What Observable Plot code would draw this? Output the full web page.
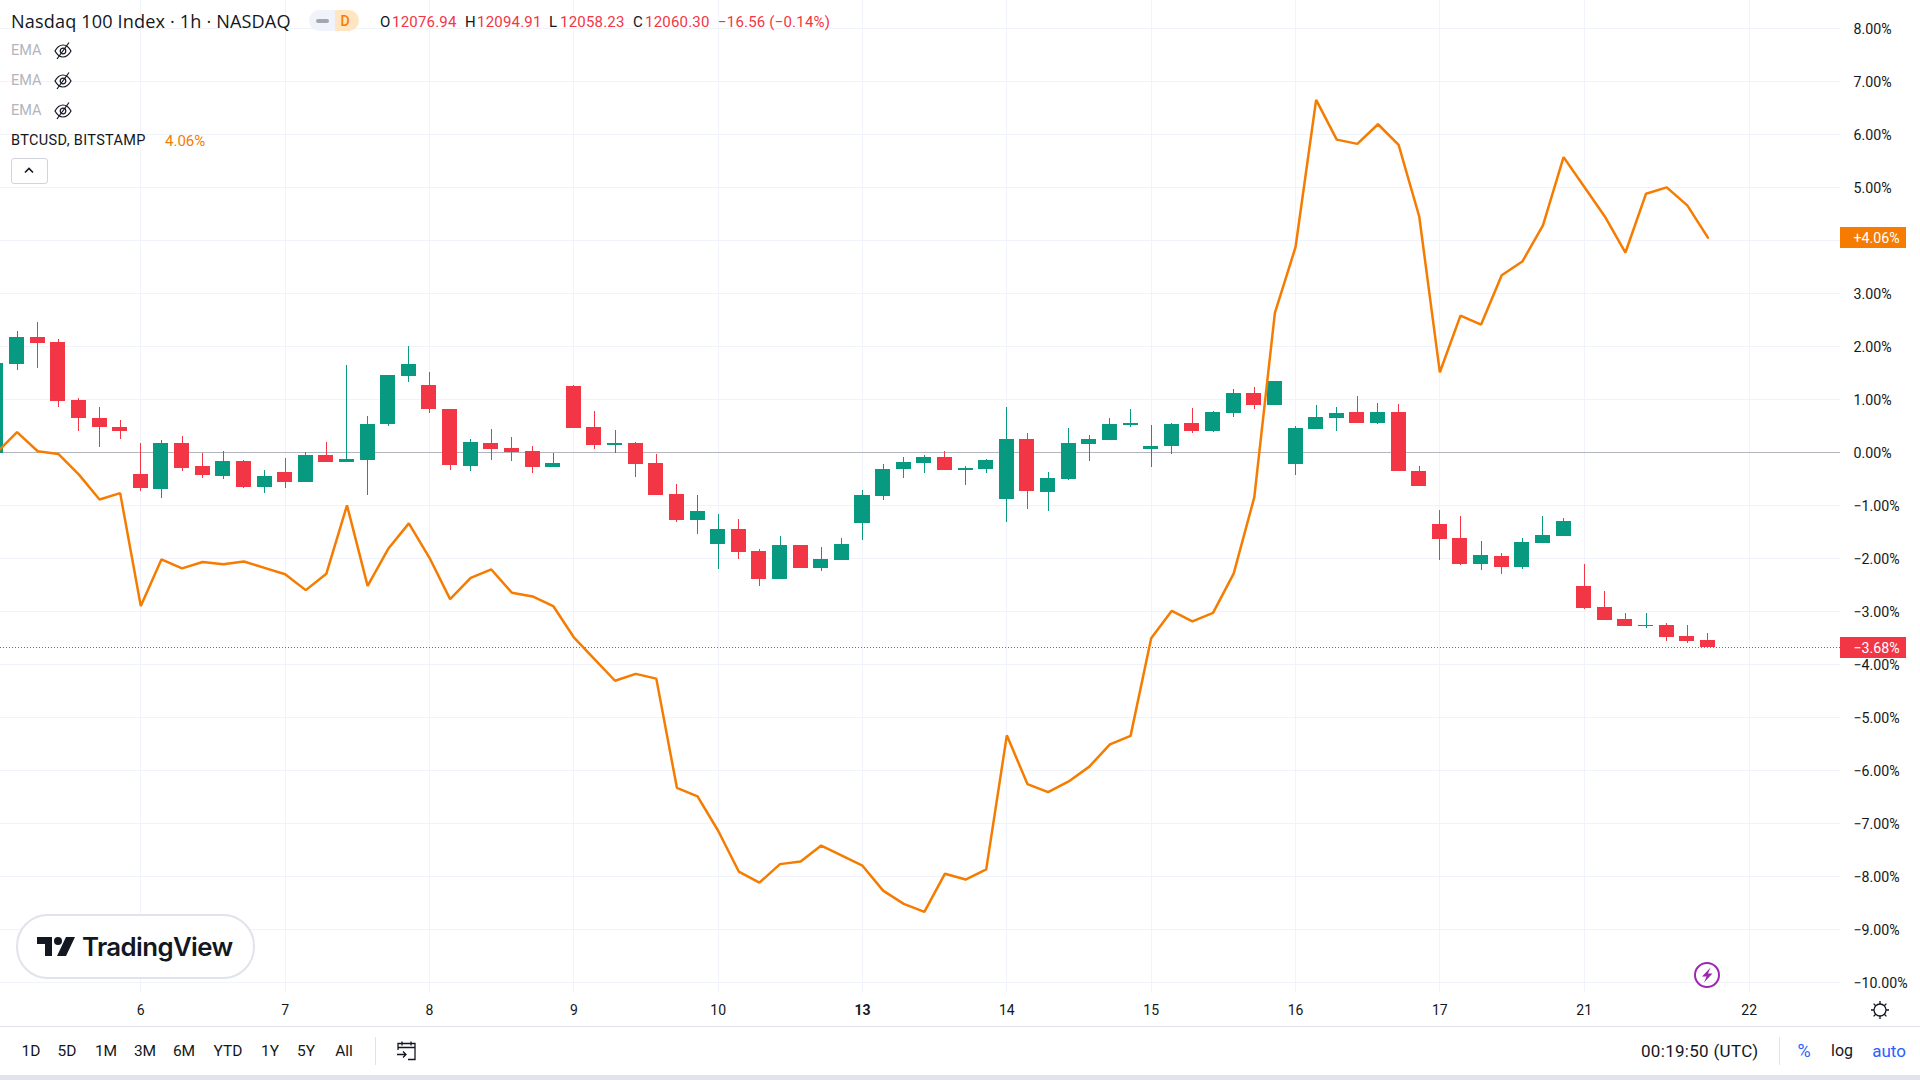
<!DOCTYPE html>
<html>
<head>
<meta charset="utf-8">
<script src="https://cdn.jsdelivr.net/npm/d3@7"></script>
<script src="https://cdn.jsdelivr.net/npm/@observablehq/plot@0.6"></script>
<style>
html,body{margin:0;padding:0;background:#fff;width:1920px;height:1080px;overflow:hidden;font-family:Roboto,"Liberation Sans",sans-serif;color:#131722}
#stage{position:relative;width:1920px;height:1080px}
#chart{position:absolute;left:0;top:0}
.t{position:absolute;white-space:nowrap;line-height:20px;transform:translateY(-50%)}
.c{transform:translate(-50%,-50%)}
.r{color:#f23645}
.v{font-size:15px;letter-spacing:.2px}
.ema{color:#b2b5be;font-size:14.5px;left:11px}
.tb{font-size:15.5px}
svg.i{position:absolute;overflow:visible}
</style>
</head>
<body>
<div id="stage">
  <div id="chart"></div>

  <span class="t" style="left:11px;top:21px;font-size:18.1px;font-family:'Open Sans',Roboto,sans-serif;letter-spacing:.15px">Nasdaq 100 Index · 1h · NASDAQ</span>
  <div style="position:absolute;left:309px;top:10px;width:26px;height:21px;background:#f0f3fa;border-radius:11px 0 0 11px"></div>
  <div style="position:absolute;left:335px;top:10px;width:24px;height:21px;background:#ffe5c2;border-radius:0 11px 11px 0"></div>
  <div style="position:absolute;left:316px;top:19px;width:13px;height:4px;background:#a3a6af;border-radius:2px"></div>
  <span class="t c" style="left:345px;top:21px;font-size:14px;font-weight:500;color:#f57c00">D</span>

  <span class="t v" style="left:380px;top:22px">O</span><span class="t v r" style="left:392px;top:22px">12076.94</span>
  <span class="t v" style="left:465px;top:22px">H</span><span class="t v r" style="left:477px;top:22px">12094.91</span>
  <span class="t v" style="left:549px;top:22px">L</span><span class="t v r" style="left:560px;top:22px">12058.23</span>
  <span class="t v" style="left:633px;top:22px">C</span><span class="t v r" style="left:645px;top:22px">12060.30</span>
  <span class="t v r" style="left:718px;top:22px">−16.56 (−0.14%)</span>

  <span class="t ema" style="top:51px">EMA</span>
  <span class="t ema" style="top:81px">EMA</span>
  <span class="t ema" style="top:111px">EMA</span>
  <svg class="i" style="left:53px;top:41px" width="20" height="20" viewBox="0 0 20 20" fill="none" stroke="#131722" stroke-width="1.200"><path d="M2 10c2.500-4.500 5-6 8-6s5.500 1.500 8 6c-2.500 4.500-5 6-8 6s-5.500-1.500-8-6z"/><circle cx="10" cy="10" r="2.800"/><path d="M4 18L16 1.500"/></svg>
  <svg class="i" style="left:53px;top:71px" width="20" height="20" viewBox="0 0 20 20" fill="none" stroke="#131722" stroke-width="1.200"><path d="M2 10c2.500-4.500 5-6 8-6s5.500 1.500 8 6c-2.500 4.500-5 6-8 6s-5.500-1.500-8-6z"/><circle cx="10" cy="10" r="2.800"/><path d="M4 18L16 1.500"/></svg>
  <svg class="i" style="left:53px;top:101px" width="20" height="20" viewBox="0 0 20 20" fill="none" stroke="#131722" stroke-width="1.200"><path d="M2 10c2.500-4.500 5-6 8-6s5.500 1.500 8 6c-2.500 4.500-5 6-8 6s-5.500-1.500-8-6z"/><circle cx="10" cy="10" r="2.800"/><path d="M4 18L16 1.500"/></svg>

  <span class="t" style="left:11px;top:141px;font-size:14.5px;letter-spacing:.35px">BTCUSD, BITSTAMP</span>
  <span class="t" style="left:165px;top:141px;font-size:15px;color:#f57c00">4.06%</span>
  <div style="position:absolute;left:11px;top:158px;width:35px;height:24px;border:1px solid #d1d4dc;border-radius:3px;background:#fff"></div>
  <svg class="i" style="left:23px;top:165px" width="12" height="10" fill="none" stroke="#131722" stroke-width="1.600"><path d="M2 7.500L6 3.500L10 7.500"/></svg>

  <div style="position:absolute;left:16px;top:914px;width:235px;height:61px;border:2px solid #e0e3eb;border-radius:32px;background:#fff"></div>
  <svg class="i" style="left:37px;top:936px" width="38" height="21" viewBox="0 0 38 21" fill="#131722"><path d="M0 1h15v19H8V8H0z"/><circle cx="21" cy="5" r="4"/><path d="M29 1h9l-9 19h-9z"/></svg>
  <span class="t" style="left:82px;top:947px;font-size:25.8px;font-weight:600;font-family:Inter,Roboto,sans-serif;letter-spacing:-.6px">TradingView</span>

  <svg class="i" style="left:1694px;top:962px" width="26" height="26" fill="none"><circle cx="13" cy="13" r="12" stroke="#9c27b0" stroke-width="2"/><path d="M16.500 5.500L8 14.500h4.500L10 20.500L18.500 11.500h-4.500z" fill="#9c27b0"/></svg>
  <svg class="i" style="left:1870px;top:1000px" width="20" height="20" fill="none" stroke="#131722" stroke-width="1.300"><circle cx="10" cy="10" r="6"/><path d="M10 1v3M10 16v3M1 10h3M16 10h3M3.600 3.600l2.100 2.100M14.300 14.300l2.100 2.100M3.600 16.400l2.100-2.100M14.300 5.700l2.100-2.100"/></svg>

  <div style="position:absolute;left:0;top:1026px;width:1920px;height:1px;background:#e0e3eb"></div>
  <div style="position:absolute;left:0;top:1075px;width:1920px;height:5px;background:#e0e3eb"></div>

  <span class="t c tb" style="left:31px;top:1051px">1D</span>
  <span class="t c tb" style="left:67px;top:1051px">5D</span>
  <span class="t c tb" style="left:106px;top:1051px">1M</span>
  <span class="t c tb" style="left:145px;top:1051px">3M</span>
  <span class="t c tb" style="left:184px;top:1051px">6M</span>
  <span class="t c tb" style="left:228px;top:1051px">YTD</span>
  <span class="t c tb" style="left:270px;top:1051px">1Y</span>
  <span class="t c tb" style="left:306px;top:1051px">5Y</span>
  <span class="t c tb" style="left:344px;top:1051px">All</span>
  <div style="position:absolute;left:375px;top:1037px;width:1px;height:28px;background:#e0e3eb"></div>
  <svg class="i" style="left:396px;top:1040px" width="22" height="22" fill="none" stroke="#131722" stroke-width="1.300"><path d="M2 10V3.500h17V19.500h-7M2 7.500h17M6 1.500v4M15 1.500v4M1 14.500h9M7 11.500l3 3-3 3"/></svg>
  <span class="t" style="left:1641px;top:1051px;font-size:17px;letter-spacing:.3px">00:19:50 (UTC)</span>
  <div style="position:absolute;left:1779px;top:1037px;width:1px;height:28px;background:#e0e3eb"></div>
  <span class="t c" style="left:1804px;top:1051px;font-size:18px;color:#2962ff">%</span>
  <span class="t c" style="left:1842px;top:1051px;font-size:16px">log</span>
  <span class="t c" style="left:1889px;top:1051px;font-size:17px;color:#2962ff">auto</span>
</div>

<script>
// Bars are counted from the first bar of day 6 (bar 0); 84 hourly bars, first one is bar -7.
const firstBar = -7;

const open = [
  -0.01,1.67,2.18,2.08,0.99,0.65,0.48,
  -0.41,-0.69,0.18,-0.26,-0.44,-0.16,-0.65,
  -0.37,-0.55,-0.05,-0.19,-0.14,0.54,1.45,
  1.27,0.82,-0.25,0.18,0.08,0.03,-0.28,
  1.25,0.48,0.14,0.18,-0.20,-0.79,-1.28,
  -1.73,-1.45,-1.86,-2.39,-1.75,-2.18,-2.03,
  -1.33,-0.82,-0.31,-0.20,-0.09,-0.33,-0.31,
  -0.88,0.25,-0.75,-0.50,0.16,0.23,0.52,
  0.06,0.12,0.55,0.40,0.74,1.12,0.89,
  -0.22,0.44,0.65,0.76,0.55,0.76,-0.35,
  -1.35,-1.62,-2.11,-1.96,-2.16,-1.71,-1.58,
  -2.52,-2.92,-3.15,-3.28,-3.26,-3.47,-3.54
];
const high = [
  1.69,2.29,2.46,2.14,1.03,0.86,0.61,
  0.18,0.23,0.31,-0.01,0.03,-0.14,-0.33,
  -0.11,0.01,0.19,1.65,0.69,1.46,2.01,
  1.52,0.82,0.25,0.44,0.29,0.12,-0.01,
  1.27,0.78,0.42,0.19,-0.03,-0.60,-0.81,
  -1.16,-1.26,-1.82,-1.58,-1.75,-1.79,-1.62,
  -0.71,-0.22,-0.09,-0.05,0.03,-0.26,-0.13,
  0.86,0.36,-0.37,0.46,0.33,0.65,0.82,
  0.52,0.55,0.84,0.78,1.20,1.23,1.35,
  0.50,0.89,0.86,1.06,0.93,0.91,-0.26,
  -1.09,-1.20,-1.67,-1.90,-1.62,-1.20,-1.24,
  -2.11,-2.62,-3.03,-3.03,-3.22,-3.26,-3.41
];
const low = [
  -0.01,1.56,1.60,0.86,0.41,0.11,0.26,
  -0.72,-0.86,-0.36,-0.48,-0.50,-0.67,-0.76,
  -0.67,-0.55,-0.19,-0.19,-0.80,0.50,1.33,
  0.75,-0.33,-0.35,-0.14,-0.16,-0.39,-0.28,
  0.46,0.06,-0.01,-0.47,-0.81,-1.31,-1.54,
  -2.20,-2.01,-2.52,-2.39,-2.18,-2.24,-2.03,
  -1.65,-0.90,-0.48,-0.39,-0.33,-0.62,-0.39,
  -1.31,-1.07,-1.11,-0.52,-0.16,0.23,0.48,
  -0.28,-0.03,0.36,0.38,0.67,0.82,0.89,
  -0.43,0.44,0.40,0.55,0.53,-0.35,-0.64,
  -2.03,-2.13,-2.22,-2.30,-2.20,-1.71,-1.58,
  -2.96,-3.16,-3.28,-3.31,-3.56,-3.60,-3.68
];
const close = [
  1.69,2.18,2.06,0.97,0.64,0.47,0.41,
  -0.67,0.18,-0.29,-0.42,-0.16,-0.65,-0.45,
  -0.55,-0.05,-0.19,-0.13,0.53,1.46,1.67,
  0.82,-0.23,0.19,0.06,0.01,-0.28,-0.20,
  0.46,0.14,0.18,-0.22,-0.81,-1.28,-1.11,
  -1.45,-1.88,-2.39,-1.75,-2.18,-2.01,-1.73,
  -0.81,-0.31,-0.18,-0.09,-0.33,-0.30,-0.14,
  0.25,-0.73,-0.48,0.18,0.25,0.53,0.55,
  0.12,0.53,0.40,0.76,1.12,0.89,1.35,
  0.46,0.67,0.74,0.55,0.76,-0.35,-0.64,
  -1.64,-2.11,-1.94,-2.16,-1.69,-1.56,-1.30,
  -2.94,-3.16,-3.28,-3.26,-3.48,-3.56,-3.68
];
const btc = [
  0.00,0.39,0.03,-0.02,-0.41,-0.88,-0.76,
  -2.89,-2.01,-2.18,-2.06,-2.10,-2.05,-2.17,
  -2.29,-2.59,-2.28,-0.99,-2.51,-1.81,-1.33,
  -1.98,-2.76,-2.36,-2.20,-2.64,-2.71,-2.89,
  -3.48,-3.89,-4.30,-4.17,-4.26,-6.32,-6.48,
  -7.13,-7.90,-8.11,-7.76,-7.71,-7.41,-7.60,
  -7.79,-8.26,-8.51,-8.66,-7.94,-8.05,-7.86,
  -5.33,-6.25,-6.40,-6.20,-5.92,-5.50,-5.34,
  -3.50,-2.98,-3.18,-3.02,-2.28,-0.84,2.64,
  3.88,6.66,5.91,5.83,6.20,5.81,4.46,
  1.52,2.59,2.42,3.35,3.61,4.29,5.58,
  5.02,4.46,3.78,4.89,5.01,4.67,4.06
];

const dayBars   = [0,7,14,21,28,35,42,49,56,63,70,78];
const dayLabels = ["6","7","8","9","10","13","14","15","16","17","21","22"];
const boldDay   = "13";
const gridTicks = [8,7,6,5,4,3,2,1,0,-1,-2,-3,-4,-5,-6,-7,-8,-9,-10];
const axisTicks = [8,7,6,5,3,2,1,0,-1,-2,-3,-4,-5,-6,-7,-8,-9,-10]; // 4.00% sits under the BTC tag
const lastBtc   = 4.06;
const lastNdx   = -3.68;

const UP = "#089981", DOWN = "#f23645", BTC = "#f57c00", GRID = "#f0f3fa", INK = "#131722";
const bars = open.map((o, i) => ({bar: firstBar + i, open: o, high: high[i], low: low[i], close: close[i], btc: btc[i]}));
const up = d => d.close >= d.open;
const halfBody = 0.364;
const fmtPct = v => (v < 0 ? "\u2212" : "") + Math.abs(v).toFixed(2) + "%";
const days = dayBars.map((b, i) => ({bar: b, label: dayLabels[i]}));
const axisEnd = 82.43, axisBoxEnd = 85.63;
const tags = [
  {y: lastBtc, text: "+" + lastBtc.toFixed(2) + "%", fill: BTC},
  {y: lastNdx, text: fmtPct(lastNdx), fill: DOWN}
];

const chart = Plot.plot({
  width: 1920,
  height: 1080,
  marginLeft: 0, marginRight: 80, marginTop: 0, marginBottom: 88,
  x: {type: "linear", domain: [-6.804, axisEnd], axis: null},
  y: {type: "linear", domain: [-10.182, 8.535], axis: null},
  style: {fontFamily: "Roboto, 'Liberation Sans', sans-serif", background: "#fff", overflow: "visible"},
  marks: [
    Plot.ruleY(gridTicks, {stroke: GRID, strokeWidth: 1, shapeRendering: "crispEdges"}),
    Plot.ruleX(dayBars, {stroke: GRID, strokeWidth: 1, shapeRendering: "crispEdges"}),
    Plot.ruleY([0], {stroke: "#b2b5be", strokeWidth: 1, shapeRendering: "crispEdges"}),
    Plot.ruleY([lastNdx], {stroke: DOWN, strokeWidth: 1, strokeDasharray: "1 2", shapeRendering: "crispEdges"}),
    Plot.ruleX(bars, {x: "bar", y1: "low", y2: "high", stroke: d => up(d) ? UP : DOWN, strokeWidth: 1, shapeRendering: "crispEdges"}),
    Plot.rect(bars, {
      x1: d => d.bar - halfBody, x2: d => d.bar + halfBody,
      y1: "open", y2: "close",
      fill: d => up(d) ? UP : DOWN, shapeRendering: "crispEdges"
    }),
    Plot.line(bars, {x: "bar", y: "btc", stroke: BTC, strokeWidth: 2.5, curve: "linear", strokeLinejoin: "miter"}),
    Plot.axisY({anchor: "right", ticks: axisTicks, tickSize: 0, tickPadding: 13, tickFormat: fmtPct, label: null, fontSize: 14.2, dy: 0.5, fill: INK, textAnchor: "start"}),
    Plot.text(days.filter(d => d.label !== boldDay), {x: "bar", text: "label", frameAnchor: "bottom", dy: 18, lineAnchor: "middle", fontSize: 14, fill: INK}),
    Plot.text(days.filter(d => d.label === boldDay), {x: "bar", text: "label", frameAnchor: "bottom", dy: 18, lineAnchor: "middle", fontSize: 14, fontWeight: 700, fill: INK}),
    Plot.rect(tags, {x1: axisEnd, x2: axisBoxEnd, y1: d => d.y - 0.2, y2: d => d.y + 0.2, fill: "fill", shapeRendering: "crispEdges"}),
    Plot.text(tags, {x: axisEnd, y: "y", text: "text", fill: "#fff", fontSize: 14.2, dx: 13, dy: 0.5, textAnchor: "start", lineAnchor: "middle"})
  ]
});
document.getElementById("chart").appendChild(chart);
</script>
</body>
</html>
